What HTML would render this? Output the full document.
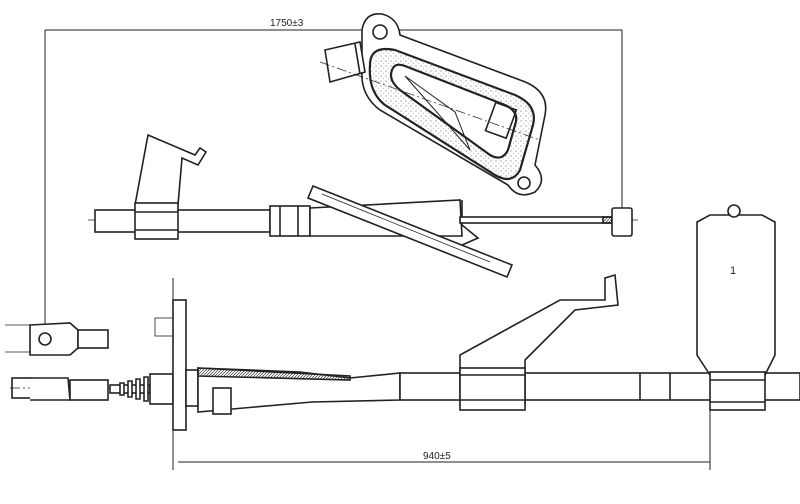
<!DOCTYPE html>
<html><head><style>body{margin:0;background:#fff}svg{display:block}</style></head><body>
<svg width="800" height="504" viewBox="0 0 800 504" xmlns="http://www.w3.org/2000/svg" fill="none" stroke="#222" stroke-width="1.6" font-family="Liberation Sans, sans-serif">
<defs><pattern id="dots" width="5" height="5" patternUnits="userSpaceOnUse"><circle cx="1" cy="1" r="0.6" fill="#777" stroke="none"/><circle cx="3.5" cy="3.2" r="0.5" fill="#999" stroke="none"/></pattern>
<pattern id="hatch" width="3" height="3" patternUnits="userSpaceOnUse"><path d="M0 3L3 0" stroke="#333" stroke-width="0.7"/></pattern></defs>
<line x1="45" y1="30" x2="622" y2="30" stroke-width="1"/>
<line x1="45" y1="30" x2="45" y2="345" stroke-width="1"/>
<line x1="622" y1="30" x2="622" y2="212" stroke-width="1"/>
<text x="270" y="26" font-size="10" fill="#222" stroke="none">1750±3</text>
<path d="M362 30 Q365 12 382 14 Q398 18 400 35 L520 80 Q550 90 545 115 L535 165 Q548 180 535 192 Q518 200 508 185 L380 110 Q360 95 362 70 Z" fill="#fff"/>
<path d="M370 65 Q370 45 395 50 L515 95 Q538 105 533 125 L520 170 Q512 185 495 175 L385 105 Q368 92 370 65 Z" fill="url(#dots)" stroke-width="2.2"/>
<path d="M392 70 Q395 62 405 66 L505 105 Q520 112 515 125 L508 150 Q502 162 490 155 L400 90 Q388 80 392 70 Z" fill="#fff" stroke-width="2.2"/>
<path d="M405 76 L455 112 L470 150 Z" stroke-width="1"/>
<rect x="490" y="105" width="22" height="30" transform="rotate(20 500 120)"/>
<circle cx="380" cy="32" r="7"/><circle cx="524" cy="183" r="6"/>
<path d="M325 50 L360 42 L365 72 L330 82 Z" fill="#fff"/><line x1="355" y1="44" x2="360" y2="74"/>
<line x1="320" y1="62" x2="540" y2="140" stroke-dasharray="10 3 2 3" stroke-width="0.7"/>
<line x1="88" y1="220" x2="640" y2="220" stroke-dasharray="10 3 2 3" stroke-width="0.7"/>
<rect x="95" y="210" width="175" height="22" fill="#fff"/>
<path d="M135 205 L148 135 L195 155 L200 148 L206 152 L198 165 L182 158 L178 205" fill="#fff"/>
<rect x="135" y="203" width="43" height="36" fill="#fff"/>
<line x1="135" y1="212" x2="178" y2="212"/><line x1="135" y1="230" x2="178" y2="230"/>
<rect x="270" y="206" width="40" height="30" fill="#fff"/>
<line x1="280" y1="206" x2="280" y2="236"/><line x1="298" y1="206" x2="298" y2="236"/>
<path d="M310 208 L460 200 L462 236 L310 236 Z" fill="#fff"/>
<path d="M462 200 L462 225 L478 238 L462 245"/>
<rect x="460" y="217" width="152" height="6" fill="#fff"/>
<rect x="603" y="217" width="9" height="6" fill="url(#hatch)"/>
<rect x="612" y="208" width="20" height="28" rx="2" fill="#fff"/>
<path d="M313 186 L512 265 L507 277 L308 198 Z" fill="#fff"/>
<path d="M322 194 L490 262" stroke-width="0.8"/>
<line x1="5" y1="325" x2="30" y2="325" stroke-width="0.8"/><line x1="5" y1="352" x2="30" y2="352" stroke-width="0.8"/>
<path d="M30 325 L70 323 L78 330 L78 348 L70 355 L30 355 Z" fill="#fff"/>
<rect x="78" y="330" width="30" height="18" fill="#fff"/>
<circle cx="45" cy="339" r="6"/>
<line x1="10" y1="388" x2="795" y2="388" stroke-dasharray="10 3 2 3" stroke-width="0.7"/>
<rect x="12" y="378" width="20" height="20"/>
<path d="M30 378 L68 378 L70 400 L30 400" fill="#fff"/>
<rect x="70" y="380" width="38" height="20" fill="#fff"/>
<rect x="110" y="385" width="40" height="8" fill="#fff"/>
<path d="M120 383 h4 v12 h-4z M128 381 h4 v16 h-4z M136 379 h4 v20 h-4z M144 377 h4 v24 h-4z" fill="#fff"/>
<rect x="150" y="374" width="23" height="30" fill="#fff"/>
<rect x="155" y="318" width="18" height="18" stroke-width="0.8"/>
<rect x="173" y="300" width="13" height="130" fill="#fff"/>
<line x1="173" y1="278" x2="173" y2="470" stroke-width="1"/>
<rect x="186" y="370" width="12" height="36" fill="#fff"/>
<path d="M198 368 L300 372 L350 378 L400 373 L400 400 L312 402 L198 412 Z" fill="#fff"/>
<path d="M198 368 L350 376 L350 380 L198 376 Z" fill="url(#hatch)"/>
<rect x="213" y="388" width="18" height="26" fill="#fff"/>
<rect x="400" y="373" width="400" height="27" fill="#fff"/>
<line x1="640" y1="373" x2="640" y2="400"/><line x1="670" y1="373" x2="670" y2="400"/>
<path d="M460 405 L460 355 L560 300 L605 300 L605 278 L615 275 L618 305 L575 310 L525 360 L525 405 Z" fill="#fff"/>
<rect x="460" y="368" width="65" height="42" fill="#fff"/>
<line x1="460" y1="375" x2="525" y2="375"/><line x1="460" y1="400" x2="525" y2="400"/>
<path d="M697 222 L710 215 L762 215 L775 222 L775 355 L765 375 L710 375 L697 355 Z" fill="#fff"/>
<rect x="728" y="205" width="12" height="12" rx="6" fill="#fff"/>
<text x="730" y="274" font-size="11" fill="#222" stroke="none">1</text>
<rect x="710" y="372" width="55" height="38" fill="#fff"/>
<line x1="710" y1="380" x2="765" y2="380"/><line x1="710" y1="402" x2="765" y2="402"/>
<line x1="178" y1="462" x2="710" y2="462" stroke-width="1"/>
<line x1="710" y1="405" x2="710" y2="470" stroke-width="1"/>
<text x="423" y="459" font-size="10" fill="#222" stroke="none">940±5</text>
</svg>
</body></html>
